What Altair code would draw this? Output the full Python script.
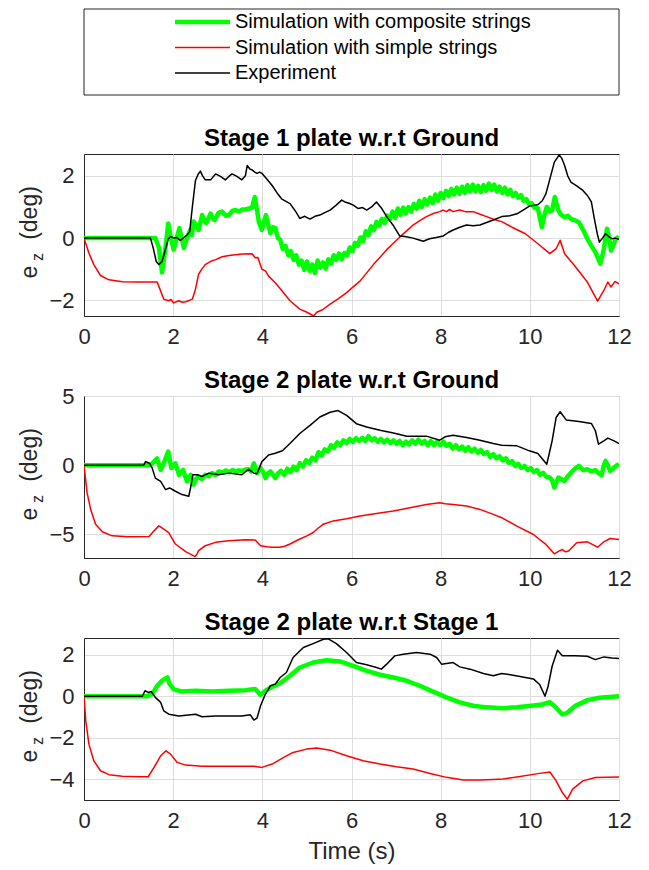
import altair as alt
import pandas as pd

FONT = "Liberation Sans"
INK = "#262626"

series = ["Simulation with composite strings", "Simulation with simple strings", "Experiment"]
colors = ["#00ff00", "#ff0000", "#000000"]
line_widths = [4.5, 1.5, 1.5]

panel_titles = ["Stage 1 plate w.r.t Ground", "Stage 2 plate w.r.t Ground", "Stage 2 plate w.r.t Stage 1"]
x_ticks = [0, 2, 4, 6, 8, 10, 12]
y_ticks = [[-2, 0, 2], [-5, 0, 5], [-4, -2, 0, 2]]
y_domains = [[-2.5, 2.7], [-6.7, 5.0], [-5.0, 2.8]]

# ---------------- Panel 1: Stage 1 plate w.r.t Ground ----------------
p1_green_t = [0, 1.60, 1.68, 1.75, 1.82, 1.89, 1.95, 2.01, 2.08, 2.14, 2.19, 2.24, 2.31, 2.38, 2.42, 2.46, 2.52, 2.57,
              2.65, 2.70, 2.74, 2.84, 2.90, 2.93, 3.02, 3.10, 3.18, 3.25, 3.33, 3.40, 3.48, 3.55, 3.62, 3.70, 3.77,
              3.83, 3.88, 3.92, 3.99, 4.08, 4.13, 4.18, 4.24, 4.29, 4.35,
              4.40, 4.46, 4.52, 4.58, 4.64, 4.70, 4.76, 4.82, 4.88, 4.94, 5.00, 5.06, 5.12, 5.18, 5.24, 5.30, 5.36,
              5.42, 5.48, 5.54, 5.60, 5.66, 5.72, 5.78, 5.84, 5.90, 5.96, 6.02, 6.08, 6.14, 6.20, 6.26, 6.32, 6.38,
              6.44, 6.50, 6.56, 6.62, 6.68, 6.74, 6.80, 6.86, 6.92, 6.98, 7.04, 7.10, 7.16, 7.22, 7.28, 7.34, 7.40,
              7.46, 7.52, 7.58, 7.64, 7.70, 7.76, 7.82, 7.88, 7.94, 8.00, 8.06, 8.12, 8.18, 8.24, 8.30, 8.36, 8.42,
              8.48, 8.54, 8.60, 8.66, 8.72, 8.78, 8.84, 8.90, 8.96, 9.02, 9.08, 9.14, 9.20, 9.26, 9.32, 9.38, 9.44,
              9.50, 9.56, 9.62, 9.68, 9.74, 9.80, 9.86, 9.92, 9.98, 10.04, 10.10, 10.18,
              10.27, 10.32, 10.38, 10.45, 10.50, 10.56, 10.64, 10.70, 10.78, 10.85, 10.92, 11.00, 11.10, 11.20,
              11.29, 11.38, 11.47, 11.53, 11.58, 11.62, 11.66, 11.73, 11.78, 11.82, 11.88, 11.93, 12.0]
p1_green_v = [0, 0.0, -0.3, -1.1, -0.4, 0.47, 0.0, -0.37, 0.0, 0.32, 0.0, -0.32, 0.0, 0.26, 0.1, 0.53, 0.4, 0.26,
              0.74, 0.55, 0.48, 0.79, 0.6, 0.58, 0.82, 0.85, 0.72, 0.74, 0.88, 0.9, 0.86, 0.92, 0.92, 0.95, 0.98,
              1.32, 0.9, 0.53, 0.26, 0.74, 0.45, 0.16, 0.35, 0.32, 0.0,
              -0.05, -0.35, -0.25, -0.55, -0.42, -0.70, -0.55, -0.85, -0.72, -1.02, -0.75, -1.05, -0.85, -1.12,
              -0.72, -0.95, -0.78, -0.98, -0.68, -0.82, -0.55, -0.70, -0.50, -0.68, -0.48, -0.55, -0.30, -0.42,
              -0.15, -0.25, 0.02, -0.10, 0.22, 0.10, 0.38, 0.25, 0.52, 0.40, 0.62, 0.48, 0.72, 0.60, 0.85, 0.65,
              0.95, 0.75, 0.98, 0.80, 1.00, 0.85, 1.10, 0.95, 1.20, 1.00, 1.25, 1.08, 1.30, 1.12, 1.40, 1.20, 1.45,
              1.28, 1.52, 1.35, 1.58, 1.40, 1.62, 1.42, 1.65, 1.45, 1.70, 1.50, 1.72, 1.50, 1.68, 1.48, 1.70, 1.52,
              1.75, 1.55, 1.72, 1.50, 1.65, 1.45, 1.62, 1.40, 1.55, 1.35, 1.45, 1.30, 1.38, 1.20, 1.25, 1.10, 1.12,
              0.98, 0.95,
              0.35, 0.7, 1.0, 0.85, 0.89, 1.32, 0.89, 0.75, 0.67, 0.72, 0.62, 0.58, 0.51, 0.25,
              -0.02, -0.25, -0.45, -0.65, -0.82, -0.6, -0.34, 0.3, 0.0, -0.4, -0.2, -0.02, 0.05]

p1_red_t = [0, 0.11, 0.22, 0.37, 0.56, 0.86, 1.23, 1.64, 1.69, 1.79, 1.90, 1.95, 2.01, 2.07, 2.13, 2.20, 2.28, 2.36,
            2.43, 2.50, 2.57, 2.65, 2.72, 2.85, 2.95, 3.10, 3.25, 3.54, 3.77, 3.84, 3.90, 3.99, 4.07, 4.14, 4.29,
            4.44, 4.62, 4.84, 5.00, 5.10, 5.15, 5.22, 5.35, 5.52, 5.70, 5.89, 6.05, 6.19, 6.35, 6.49, 6.65, 6.79,
            6.95, 7.08, 7.25, 7.38, 7.55, 7.68, 7.85, 7.98, 8.05, 8.13, 8.20, 8.28, 8.43, 8.55, 8.73, 8.90, 9.03,
            9.20, 9.37, 9.60, 9.90, 10.18, 10.45, 10.52, 10.59, 10.68, 10.78, 11.00, 11.29, 11.52, 11.66, 11.75,
            11.82, 11.91, 12.0]
p1_red_v = [0, -0.48, -0.85, -1.2, -1.34, -1.4, -1.41, -1.41, -1.59, -1.96, -2.01, -1.97, -2.08, -2.04, -2.01,
            -2.06, -2.04, -2.0, -1.96, -1.64, -1.16, -0.98, -0.85, -0.74, -0.69, -0.6, -0.56, -0.51, -0.5, -0.63,
            -0.62, -1.0, -1.05, -1.22, -1.43, -1.69, -2.01, -2.28, -2.38, -2.46, -2.5, -2.38, -2.3, -2.12, -1.95,
            -1.75, -1.55, -1.38, -1.1, -0.85, -0.6, -0.37, -0.15, 0.03, 0.25, 0.42, 0.58, 0.69, 0.8, 0.85, 0.9,
            0.85, 0.92, 0.85, 0.9, 0.85, 0.85, 0.76, 0.69, 0.6, 0.53, 0.35, 0.14, -0.18, -0.5, -0.42, -0.34,
            -0.07, -0.5, -0.88, -1.41, -2.02, -1.68, -1.41, -1.57, -1.39, -1.47]

p1_black_t = [0, 1.49, 1.55, 1.62, 1.68, 1.75, 1.82, 1.89, 1.95, 2.01, 2.08, 2.16, 2.24, 2.31, 2.37, 2.43, 2.50,
              2.56, 2.61, 2.66, 2.72, 2.84, 2.95, 3.06, 3.17, 3.25, 3.32, 3.43, 3.54, 3.62, 3.66, 3.72, 3.77, 3.83,
              3.88, 3.94, 3.99, 4.10, 4.22, 4.33, 4.44, 4.62, 4.75, 4.84, 4.95, 5.07, 5.18, 5.29, 5.40, 5.52, 5.65,
              5.78, 5.87, 5.96, 6.05, 6.15, 6.25, 6.34, 6.45, 6.56, 6.68, 6.79, 6.95, 7.08, 7.20, 7.38, 7.50, 7.61,
              7.75, 7.90, 8.06, 8.17, 8.28, 8.43, 8.58, 8.73, 8.88, 9.03, 9.18, 9.37, 9.55, 9.71, 9.85, 9.99, 10.18,
              10.28, 10.36, 10.45, 10.55, 10.66, 10.72, 10.78, 10.85, 10.92, 11.05, 11.19, 11.30, 11.38, 11.45,
              11.52, 11.56, 11.63, 11.70, 11.77, 11.84, 11.92, 12.0]
p1_black_v = [0, 0, -0.3, -0.75, -0.85, -0.75, -0.4, -0.02, 0.05, 0.0, 0.02, -0.07, 0.02, 0.1, 0.2, 1.0, 1.85,
              2.05, 2.15, 2.0, 1.87, 1.87, 2.06, 1.98, 1.87, 1.98, 2.06, 1.98, 1.87, 2.0, 2.33, 2.22, 2.19, 2.12,
              2.08, 2.12, 2.08, 1.9, 1.69, 1.45, 1.25, 1.11, 0.85, 0.63, 0.7, 0.61, 0.7, 0.74, 0.82, 0.9, 1.05,
              1.22, 1.15, 1.11, 1.05, 0.95, 0.98, 0.9, 1.0, 1.16, 0.95, 0.69, 0.38, 0.07, 0.05, 0.0, -0.05, -0.1,
              -0.02, 0.02, 0.07, 0.18, 0.26, 0.35, 0.42, 0.4, 0.42, 0.5, 0.58, 0.69, 0.72, 0.78, 0.9, 1.03, 1.07,
              1.2, 1.42, 1.9, 2.44, 2.67, 2.55, 2.33, 2.0, 1.8, 1.68, 1.53, 1.35, 1.16, 0.6,
              0.09, -0.13, 0.0, 0.14, 0.05, -0.02, 0.0, -0.04]

# ---------------- Panel 2: Stage 2 plate w.r.t Ground ----------------
p2_green_t = [0, 1.49, 1.57, 1.64, 1.72, 1.79, 1.84, 1.89, 1.96, 2.05, 2.13, 2.22, 2.31, 2.39, 2.46, 2.52, 2.57,
              2.64, 2.72, 2.80, 2.87, 2.95, 3.02, 3.10, 3.18, 3.25, 3.33, 3.40, 3.47, 3.55, 3.62, 3.69, 3.75, 3.81,
              3.88, 3.96, 4.02, 4.07, 4.12, 4.18, 4.24, 4.29, 4.35,
              4.42, 4.49, 4.56, 4.63, 4.70, 4.77, 4.84, 4.91, 4.98, 5.05, 5.12, 5.19, 5.26, 5.33, 5.40, 5.47, 5.54,
              5.61, 5.68, 5.75, 5.82, 5.89, 5.96, 6.03, 6.10, 6.17, 6.24, 6.31, 6.38, 6.45, 6.52, 6.59, 6.66, 6.73,
              6.80, 6.87, 6.94, 7.01, 7.08, 7.15, 7.22, 7.29, 7.36, 7.43, 7.50, 7.57, 7.64, 7.71, 7.78, 7.85, 7.92,
              7.99, 8.06, 8.13, 8.20, 8.27, 8.34, 8.41, 8.48, 8.55, 8.62, 8.69, 8.76, 8.83, 8.90, 8.97, 9.04, 9.11,
              9.18, 9.25, 9.32, 9.39, 9.46, 9.53, 9.60, 9.67, 9.74, 9.81, 9.88, 9.95, 10.02, 10.09, 10.16, 10.23,
              10.30, 10.37, 10.45, 10.50, 10.55, 10.60, 10.64, 10.70, 10.78, 10.85, 10.96, 11.03, 11.10, 11.20,
              11.29, 11.38, 11.47, 11.55, 11.61, 11.66, 11.70, 11.75, 11.80, 11.85, 11.89, 11.95, 12.0]
p2_green_v = [0, 0, 0.26, 0.5, -0.33, 0.14, 0.6, 0.98, -0.21, 0.14, -0.69, -0.33, -1.17, -0.69, -1.4, -0.95, -0.81,
              -1.0, -0.69, -0.8, -0.57, -0.7, -0.45, -0.55, -0.38, -0.5, -0.35, -0.45, -0.38, -0.42, -0.3, -0.29,
              -0.45, 0.14, -0.57, -0.21, -0.5, -0.93, -0.6, -0.45, -0.7, -0.93, -0.6,
              -0.40, -0.70, -0.25, -0.50, -0.10, -0.35, 0.15, -0.10, 0.35, 0.15, 0.55, 0.35, 0.95, 0.70, 1.15, 1.00,
              1.45, 1.25, 1.65, 1.45, 1.80, 1.60, 1.90, 1.70, 1.95, 1.75, 1.98, 1.75, 2.10, 1.80, 1.95, 1.70, 1.90,
              1.65, 1.85, 1.60, 1.80, 1.55, 1.75, 1.45, 1.70, 1.50, 1.80, 1.55, 1.85, 1.55, 1.75, 1.45, 1.75, 1.45,
              1.70, 1.45, 1.70, 1.40, 1.55, 1.20, 1.45, 1.15, 1.35, 1.05, 1.30, 1.00, 1.20, 0.90, 1.10, 0.80, 0.95,
              0.60, 0.80, 0.50, 0.65, 0.35, 0.50, 0.15, 0.30, -0.05, 0.10, -0.20, -0.05, -0.35, -0.20, -0.50, -0.35,
              -0.70, -0.55, -0.85, -0.89, -1.1, -1.62, -1.2, -0.89, -1.0, -1.14, -0.8, -0.41, -0.2, -0.05, -0.35,
              -0.29, -0.45, -0.36, -0.6, -0.7, 0.0, 0.31, 0.0, -0.41, -0.3, -0.17, 0.0, 0.07]

p2_red_t = [0, 0.07, 0.15, 0.26, 0.41, 0.63, 1.0, 1.46, 1.57, 1.68, 1.79, 1.90, 2.05, 2.28, 2.49, 2.53, 2.57, 2.72,
            2.95, 3.25, 3.62, 3.84, 3.96, 4.10, 4.22, 4.39, 4.50, 4.62, 4.84, 5.00, 5.14, 5.25, 5.37, 5.59, 5.89,
            6.19, 6.56, 6.94, 7.31, 7.68, 7.98, 8.10, 8.28, 8.58, 8.88, 9.18, 9.37, 9.71, 10.08, 10.36, 10.55,
            10.65, 10.73, 10.80, 10.87, 11.05, 11.29, 11.52, 11.66, 11.80, 12.0]
p2_red_v = [0, -2.0, -3.2, -4.26, -4.8, -5.1, -5.17, -5.14, -4.74, -4.38, -4.62, -4.86, -5.69, -6.24, -6.6, -6.45,
            -6.17, -5.81, -5.57, -5.45, -5.38, -5.4, -5.81, -5.88, -5.93, -5.93, -5.85, -5.69, -5.33, -5.1, -4.86,
            -4.55, -4.26, -4.02, -3.86, -3.67, -3.48, -3.31, -3.07, -2.83, -2.71, -2.78, -2.83, -2.95, -3.19,
            -3.55, -3.79, -4.4, -5.0, -5.72, -6.4, -6.2, -6.09, -6.25, -6.2, -5.6, -5.53, -5.92, -5.53, -5.29,
            -5.36]

p2_black_t = [0, 1.34, 1.38, 1.47, 1.53, 1.60, 1.72, 1.83, 1.92, 2.05, 2.20, 2.35, 2.39, 2.44, 2.54, 2.65, 2.80,
              3.02, 3.25, 3.54, 3.69, 3.81, 3.88, 3.99, 4.14, 4.29, 4.45, 4.62, 4.84, 5.07, 5.29, 5.52, 5.70, 5.89,
              6.11, 6.34, 6.64, 6.94, 7.24, 7.68, 7.98, 8.10, 8.28, 8.58, 8.88, 9.18, 9.37, 9.71, 9.99, 10.18,
              10.38, 10.50, 10.59, 10.68, 10.82, 11.10, 11.38, 11.47, 11.54, 11.66, 11.75, 11.89, 12.0]
p2_black_v = [0, 0, 0.26, 0.14, -0.21, -0.93, -1.17, -1.76, -1.64, -1.88, -2.12, -2.24, -1.64, -0.69, -0.69, -0.81,
              -0.57, -0.69, -0.57, -0.69, -0.29, -0.57, -0.62, 0.26, 0.74, 0.86, 1.05, 1.57, 2.29, 2.88, 3.48, 3.83,
              3.95, 3.6, 3.0, 2.76, 2.52, 2.33, 2.1, 2.1, 1.81, 2.05, 2.17, 2.0, 1.81, 1.57, 1.45, 1.4, 1.04, 0.85,
              0.07, 1.76, 3.45, 3.86, 3.26, 3.16, 3.02, 2.49, 1.52, 1.76, 1.96, 1.76, 1.57]

# ---------------- Panel 3: Stage 2 plate w.r.t Stage 1 ----------------
p3_green_t = [0, 1.42, 1.53, 1.64, 1.75, 1.82, 1.87, 1.92, 2.01, 2.20, 2.50, 2.87, 3.25, 3.62, 3.84, 3.96, 4.07,
              4.22, 4.39, 4.62, 4.84, 5.14, 5.44, 5.74, 6.04, 6.34, 6.64, 6.94, 7.24, 7.53, 7.83, 8.13, 8.43, 8.73,
              9.03, 9.40, 9.71, 10.08, 10.27, 10.45, 10.59, 10.73, 10.84, 11.01, 11.29, 11.56, 12.0]
p3_green_v = [0, 0, 0.1, 0.5, 0.74, 0.85, 0.9, 0.58, 0.34, 0.22, 0.26, 0.22, 0.26, 0.29, 0.34, 0.06, 0.26, 0.45,
              0.61, 0.98, 1.38, 1.62, 1.73, 1.67, 1.46, 1.22, 1.03, 0.9, 0.74, 0.5, 0.22, -0.06, -0.3, -0.46, -0.54,
              -0.58, -0.53, -0.45, -0.4, -0.29, -0.56, -0.88, -0.8, -0.48, -0.19, -0.08, 0.0]

p3_red_t = [0, 0.04, 0.11, 0.22, 0.37, 0.56, 0.86, 1.23, 1.44, 1.57, 1.72, 1.84, 1.94, 2.09, 2.28, 2.65, 3.25, 3.81,
            3.99, 4.22, 4.48, 4.69, 4.99, 5.22, 5.52, 5.89, 6.26, 6.64, 7.01, 7.38, 7.76, 8.13, 8.51, 8.88, 9.18,
            9.40, 9.71, 10.18, 10.45, 10.59, 10.73, 10.84, 10.96, 11.19, 11.47, 12.0]
p3_red_v = [0, -1.19, -2.31, -3.11, -3.59, -3.78, -3.86, -3.88, -3.88, -3.43, -2.87, -2.63, -2.79, -3.19, -3.32,
            -3.37, -3.37, -3.37, -3.43, -3.27, -2.95, -2.71, -2.55, -2.5, -2.6, -2.87, -3.11, -3.27, -3.4, -3.51,
            -3.72, -3.91, -4.04, -4.04, -4.01, -3.99, -3.89, -3.73, -3.65, -4.08, -4.64, -4.96, -4.48, -4.08,
            -3.92, -3.89]

p3_black_t = [0, 1.31, 1.37, 1.44, 1.51, 1.60, 1.72, 1.79, 1.90, 2.13, 2.50, 2.65, 2.95, 3.25, 3.54, 3.73, 3.81,
              3.88, 3.96, 4.07, 4.18, 4.29, 4.40, 4.54, 4.69, 4.92, 5.14, 5.37, 5.48, 5.66, 5.89, 6.11, 6.34, 6.56,
              6.67, 6.79, 6.97, 7.16, 7.46, 7.76, 7.91, 8.02, 8.28, 8.43, 8.66, 8.96, 9.18, 9.37, 9.53, 9.81, 10.08,
              10.22, 10.34, 10.41, 10.50, 10.62, 10.73, 11.01, 11.29, 11.47, 11.66, 11.84, 12.0]
p3_black_v = [0, 0, 0.26, 0.18, 0.22, -0.06, -0.3, -0.71, -0.87, -0.95, -0.87, -0.99, -0.95, -0.95, -0.95, -0.9,
              -1.15, -1.06, -0.46, 0.1, 0.5, 0.58, 0.9, 1.14, 1.86, 2.34, 2.53, 2.74, 2.76, 2.53, 2.1, 1.62, 1.51,
              1.38, 1.3, 1.54, 1.94, 2.02, 2.1, 2.02, 1.86, 1.54, 1.62, 1.41, 1.3, 1.09, 0.98, 1.09, 1.04, 0.93,
              0.83, 0.56, 0.0, 0.48, 1.44, 2.21, 1.95, 1.95, 1.92, 1.76, 1.89, 1.84, 1.81]

panels = [
    [(p1_green_t, p1_green_v), (p1_red_t, p1_red_v), (p1_black_t, p1_black_v)],
    [(p2_green_t, p2_green_v), (p2_red_t, p2_red_v), (p2_black_t, p2_black_v)],
    [(p3_green_t, p3_green_v), (p3_red_t, p3_red_v), (p3_black_t, p3_black_v)],
]

W, H = 535, 162
one = pd.DataFrame({"k": [0]})


def make_panel(idx):
    x_axis = alt.Axis(values=x_ticks, labelFont=FONT, labelFontSize=22, labelColor=INK, labelPadding=10,
                      labelFlush=False, labelOverlap=False, ticks=False, domainColor=INK,
                      gridColor="#dedede", title="Time (s)" if idx == 2 else None,
                      titleFont=FONT, titleFontSize=24, titleFontWeight="normal", titleColor=INK, titlePadding=8)
    y_axis = alt.Axis(values=y_ticks[idx], labelFont=FONT, labelFontSize=22, labelColor=INK, labelPadding=10,
                      labelOverlap=False, ticks=False, domainColor=INK, gridColor="#dedede", title=None)
    layers = []
    for (t, v), col, lw in zip(panels[idx], colors, line_widths):
        df = pd.DataFrame({"t": t, "v": v})
        layers.append(
            alt.Chart(df).mark_line(color=col, strokeWidth=lw, strokeJoin="round", clip=True).encode(
                x=alt.X("t:Q", scale=alt.Scale(domain=[0, 12], nice=False, zero=False), axis=x_axis),
                y=alt.Y("v:Q", scale=alt.Scale(domain=y_domains[idx], nice=False, zero=False), axis=y_axis),
            )
        )
    # panel title
    layers.append(alt.Chart(one).mark_text(text=panel_titles[idx], font=FONT, fontSize=24, fontWeight="bold",
                                           color="#000000", align="center", baseline="middle").encode(
        x=alt.value(W / 2), y=alt.value(-15)))
    # y-axis title e_z (deg)
    layers.append(alt.Chart(one).mark_text(text="e", font=FONT, fontSize=23, color=INK, angle=270,
                                           align="center", baseline="alphabetic").encode(
        x=alt.value(-47), y=alt.value(118)))
    layers.append(alt.Chart(one).mark_text(text="z", font=FONT, fontSize=16, color=INK, angle=270,
                                           align="center", baseline="alphabetic").encode(
        x=alt.value(-41), y=alt.value(103)))
    layers.append(alt.Chart(one).mark_text(text="(deg)", font=FONT, fontSize=23, color=INK, angle=270,
                                           align="center", baseline="alphabetic").encode(
        x=alt.value(-47), y=alt.value(59)))
    if idx == 0:
        layers.append(alt.Chart(one).mark_rect(fill="white", stroke=INK, strokeWidth=1).encode(
            x=alt.value(0), x2=alt.value(W), y=alt.value(-145), y2=alt.value(-59)))
        for i, (name, col, lw) in enumerate(zip(series, colors, line_widths)):
            ry = -132 + i * 25.5
            layers.append(alt.Chart(one).mark_rule(color=col, strokeWidth=lw).encode(
                x=alt.value(91), x2=alt.value(146), y=alt.value(ry)))
            layers.append(alt.Chart(one).mark_text(text=name, font=FONT, fontSize=20, color="#000000",
                                                   align="left", baseline="middle").encode(
                x=alt.value(151), y=alt.value(ry)))
    return alt.layer(*layers).properties(width=W, height=H)


chart = alt.vconcat(make_panel(0), make_panel(1), make_panel(2), spacing=80, bounds="flush").properties(
    padding={"left": 10, "top": 0, "right": 5, "bottom": 5}
).configure_view(stroke=INK, strokeWidth=1)

chart.save("out.html", embed_options={"renderer": "svg", "actions": False})
